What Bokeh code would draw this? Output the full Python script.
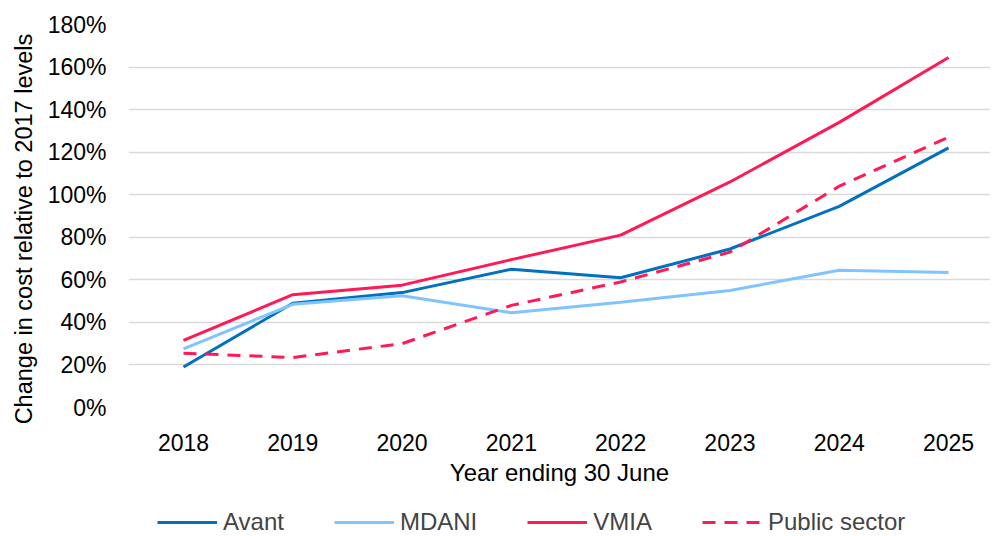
from bokeh.plotting import figure
from bokeh.layouts import column
from bokeh.models import Range1d, FixedTicker, PrintfTickFormatter, Legend, LegendItem
from bokeh.embed import file_html
from bokeh.resources import INLINE

years = [2018, 2019, 2020, 2021, 2022, 2023, 2024, 2025]
year_labels = ["2018", "2019", "2020", "2021", "2022", "2023", "2024", "2025"]
avant = [19, 49, 54, 65, 61, 74.5, 94.5, 122]
mdani = [27.5, 48.5, 52.5, 44.5, 49.5, 55, 64.5, 63.5]
vmia = [31.5, 53, 57.5, 69.5, 81, 106, 134, 164.5]
public_sector = [25.5, 23.5, 30, 48, 59, 73, 104, 127]
y_ticks = [0, 20, 40, 60, 80, 100, 120, 140, 160, 180]
series_names = ["Avant", "MDANI", "VMIA", "Public sector"]

FONT = "Liberation Sans"
styles = [dict(line_color="#0070C0", line_width=3),
          dict(line_color="#80C4FF", line_width=3),
          dict(line_color="#FF1A55", line_width=3),
          dict(line_color="#FF1A55", line_width=3, line_dash="13 9")]
series = [avant, mdani, vmia, public_sector]

p = figure(width=990, height=500, output_backend="svg", toolbar_location=None,
           x_range=Range1d(2017.497, 2025.384), y_range=Range1d(0, 180),
           min_border_left=128, min_border_top=24, min_border_right=0, min_border_bottom=93)
p.outline_line_color = None
p.background_fill_color = "white"
p.border_fill_color = "white"

p.xgrid.visible = False
p.ygrid.grid_line_color = "#d9d9d9"
p.ygrid.grid_line_width = 1.5

for ax in (p.xaxis[0], p.yaxis[0]):
    ax.axis_line_color = None
    ax.major_tick_line_color = None
    ax.minor_tick_line_color = None
    ax.major_tick_out = 0
    ax.major_tick_in = 0
    ax.minor_tick_out = 0
    ax.minor_tick_in = 0
    ax.major_label_text_font = FONT
    ax.major_label_text_font_size = "23px"
    ax.major_label_text_color = "black"
    ax.axis_label_text_font = FONT
    ax.axis_label_text_font_style = "normal"
    ax.axis_label_text_color = "black"

p.xaxis.ticker = FixedTicker(ticks=years)
p.xaxis.major_label_overrides = {y: l for y, l in zip(years, year_labels)}
p.xaxis.major_label_standoff = 26
p.xaxis.axis_label = "Year ending 30 June"
p.xaxis.axis_label_text_font_size = "24px"
p.xaxis.axis_label_standoff = 5

p.yaxis.ticker = FixedTicker(ticks=y_ticks)
p.yaxis.formatter = PrintfTickFormatter(format="%d%%")
p.yaxis.major_label_standoff = 22
p.yaxis.axis_label = "Change in cost relative to 2017 levels\u00a0\u00a0\u00a0\u00a0"
p.yaxis.axis_label_text_font_size = "23.5px"
p.yaxis.axis_label_standoff = 8

for vals, st in zip(series, styles):
    p.line(years, vals, **st)

# Legend strip below the chart (same series, drawn off-range so only legend keys show)
p2 = figure(width=990, height=36, output_backend="svg", toolbar_location=None,
            x_range=Range1d(0, 1), y_range=Range1d(0, 1),
            min_border_left=0, min_border_top=0, min_border_right=0, min_border_bottom=0)
p2.axis.visible = False
p2.grid.visible = False
p2.outline_line_color = None
p2.border_fill_color = "white"
items = []
for name, vals, st in zip(series_names, series, styles):
    r = p2.line(years, vals, **st)
    items.append(LegendItem(label=name, renderers=[r]))

legend = Legend(items=items, orientation="horizontal", location=(29, 0),
                label_text_font=FONT, label_text_font_size="24px",
                glyph_width=60, glyph_height=24, label_height=24, label_standoff=6, spacing=50,
                padding=0, margin=0, border_line_color=None, background_fill_alpha=0)
p2.add_layout(legend, "center")

open("out.html", "w").write(file_html(column(p, p2), INLINE))
